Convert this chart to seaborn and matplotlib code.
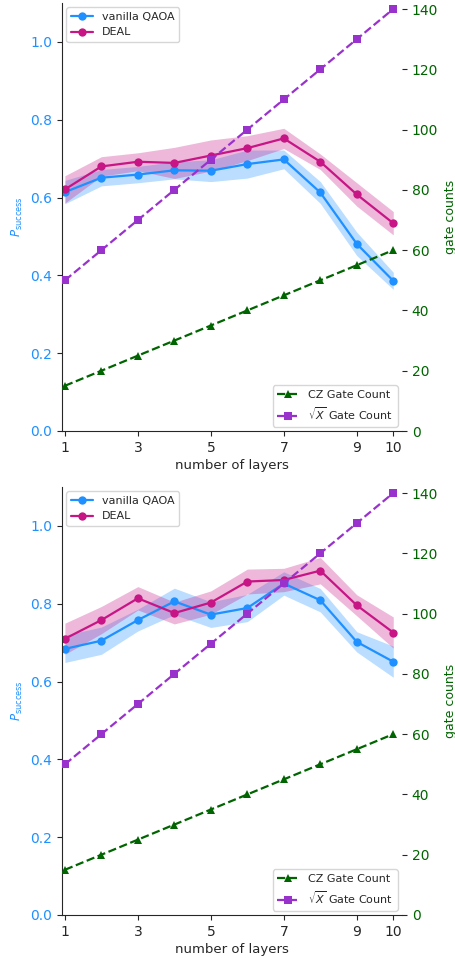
import matplotlib
matplotlib.use("Agg")
import matplotlib.pyplot as plt
import numpy as np
import seaborn as sns

layers = [1, 2, 3, 4, 5, 6, 7, 8, 9, 10]

# top panel
vanilla_top = [0.614, 0.651, 0.659, 0.670, 0.669, 0.686, 0.698, 0.613, 0.481, 0.386]
vanilla_top_err = [0.030, 0.021, 0.021, 0.022, 0.028, 0.036, 0.024, 0.028, 0.030, 0.022]
deal_top = [0.621, 0.680, 0.692, 0.689, 0.708, 0.727, 0.752, 0.692, 0.608, 0.534]
deal_top_err = [0.035, 0.025, 0.023, 0.040, 0.040, 0.032, 0.026, 0.020, 0.030, 0.030]

# bottom panel
vanilla_bot = [0.684, 0.705, 0.758, 0.806, 0.772, 0.789, 0.852, 0.809, 0.702, 0.651]
vanilla_bot_err = [0.035, 0.035, 0.028, 0.034, 0.033, 0.035, 0.030, 0.030, 0.026, 0.040]
deal_bot = [0.710, 0.758, 0.814, 0.776, 0.803, 0.857, 0.861, 0.885, 0.796, 0.726]
deal_bot_err = [0.040, 0.035, 0.030, 0.028, 0.030, 0.032, 0.030, 0.034, 0.027, 0.040]

cz_count = [15, 20, 25, 30, 35, 40, 45, 50, 55, 60]
sx_count = [50, 60, 70, 80, 90, 100, 110, 120, 130, 140]

xticks = [1, 3, 5, 7, 9, 10]

C_VAN = "dodgerblue"
C_DEAL = "mediumvioletred"
C_CZ = "darkgreen"
C_SX = "darkorchid"

sns.set_style("ticks")
plt.rcParams['font.family'] = ['DejaVu Sans']

fig = plt.figure(figsize=(4.55, 9.58), dpi=100)
W, H = 455, 958


def panel(rect, van, van_err, deal, deal_err):
    ax = fig.add_axes(rect)
    van = np.array(van); van_err = np.array(van_err)
    deal = np.array(deal); deal_err = np.array(deal_err)
    ax.fill_between(layers, van - van_err, van + van_err, color=C_VAN, alpha=0.3, lw=0)
    ax.fill_between(layers, deal - deal_err, deal + deal_err, color=C_DEAL, alpha=0.3, lw=0)
    sns.lineplot(x=layers, y=van, ax=ax, color=C_VAN, marker='o', markersize=6,
                 markeredgewidth=0, lw=1.6, label="vanilla QAOA")
    sns.lineplot(x=layers, y=deal, ax=ax, color=C_DEAL, marker='o', markersize=6,
                 markeredgewidth=0, lw=1.6, label="DEAL")
    ax.set_xlim(0.92, 10.24)
    ax.set_ylim(0, 1.1)
    ax.set_xticks(xticks)
    ax.set_yticks([0.0, 0.2, 0.4, 0.6, 0.8, 1.0])
    ax.tick_params(axis='y', colors='.15', labelcolor=C_VAN, labelsize=10)
    ax.tick_params(axis='x', labelsize=10)
    ax.set_xlabel("number of layers", fontsize=9.5, labelpad=3)
    ax.set_ylabel(r"$P_{\rm success}$", color=C_VAN, fontsize=8.5)
    sns.despine(ax=ax)
    ax.legend(loc="upper left", fontsize=8, borderaxespad=0.4, handlelength=2.0)

    ax2 = ax.twinx()
    sns.lineplot(x=layers, y=cz_count, ax=ax2, color=C_CZ, marker='^', markersize=6,
                 markeredgewidth=0, lw=1.6, linestyle='--', label="CZ Gate Count")
    sns.lineplot(x=layers, y=sx_count, ax=ax2, color=C_SX, marker='s', markersize=5.5,
                 markeredgewidth=0, lw=1.6, linestyle='--', label=r"$\sqrt{X}$ Gate Count")
    ax2.set_ylim(0, 142)
    ax2.set_yticks([0, 20, 40, 60, 80, 100, 120, 140])
    ax2.tick_params(axis='y', colors='.15', labelcolor=C_CZ, labelsize=10)
    ax2.set_ylabel("gate counts", color=C_CZ, fontsize=9)
    for s in ax2.spines.values():
        s.set_visible(False)
    ax2.legend(loc="lower right", fontsize=8, borderaxespad=0.4, handlelength=2.0)
    return ax, ax2


left = 62 / W
width = 340 / W
height = 428 / H
panel([left, (H - 431) / H, width, height], vanilla_top, vanilla_top_err, deal_top, deal_top_err)
panel([left, (H - 915) / H, width, height], vanilla_bot, vanilla_bot_err, deal_bot, deal_bot_err)

fig.savefig("out.png", dpi=100)
